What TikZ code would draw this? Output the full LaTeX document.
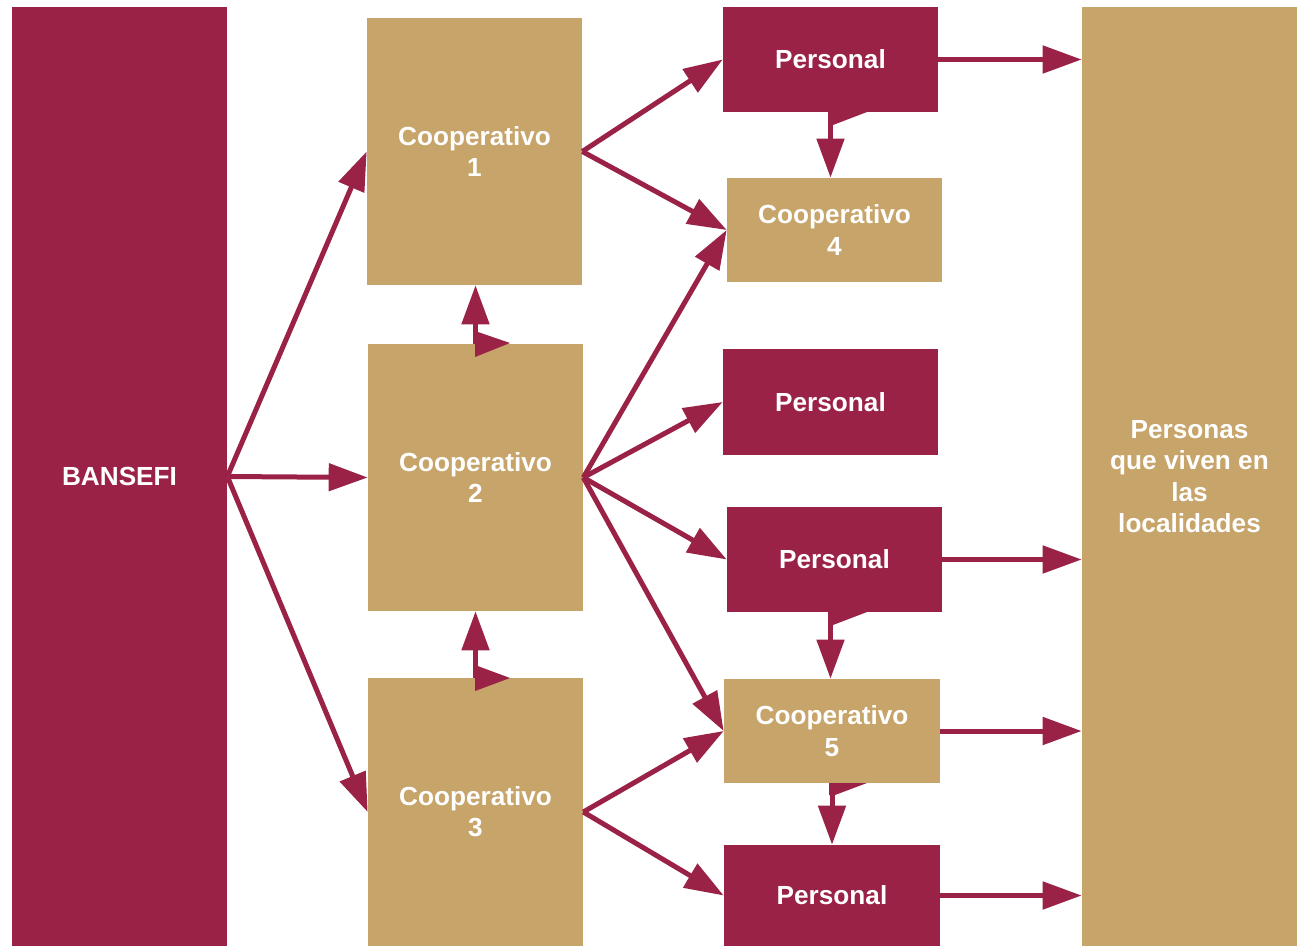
\documentclass[tikz,border=0pt]{standalone}
\usepackage{fontspec}
\setmainfont{Liberation Sans}
\usetikzlibrary{arrows.meta}

\definecolor{wine}{RGB}{155,34,71}
\definecolor{gold}{RGB}{198,164,106}

\tikzset{
  box/.style={fill=#1, text=white, align=center, inner sep=0pt,
    font=\bfseries\fontsize{14.9}{17.8}\selectfont},
  link/.style={wine, line width=0.1cm, -{Triangle[length=0.78cm,width=0.54cm]}}
}

\begin{document}
\begin{tikzpicture}[x=0.02cm, y=-0.02cm]
\useasboundingbox (0,0) rectangle (1301,946);

% boxes
\node[box=wine, minimum width=4.3cm, minimum height=18.78cm] (bansefi) at (119.5,476.5) {BANSEFI};
\node[box=gold, minimum width=4.3cm, minimum height=5.34cm] (c1) at (474.5,151.5) {Cooperativo\\1};
\node[box=gold, minimum width=4.3cm, minimum height=5.34cm] (c2) at (475.5,477.5) {Cooperativo\\2};
\node[box=gold, minimum width=4.3cm, minimum height=5.36cm] (c3) at (475.5,812) {Cooperativo\\3};
\node[box=wine, minimum width=4.3cm, minimum height=2.1cm] (p1) at (830.5,59.5) {Personal};
\node[box=gold, minimum width=4.3cm, minimum height=2.08cm] (c4) at (834.5,230) {Cooperativo\\4};
\node[box=wine, minimum width=4.3cm, minimum height=2.12cm] (p2) at (830.5,402) {Personal};
\node[box=wine, minimum width=4.3cm, minimum height=2.1cm] (p3) at (834.5,559.5) {Personal};
\node[box=gold, minimum width=4.32cm, minimum height=2.08cm] (c5) at (832,731) {Cooperativo\\5};
\node[box=wine, minimum width=4.32cm, minimum height=2.02cm] (p4) at (832,895.5) {Personal};
\node[box=gold, minimum width=4.3cm, minimum height=18.78cm] (pv) at (1189.5,476.5) {Personas\\que viven en\\las\\localidades};

% arrows
\draw[link] (bansefi.east) -- (c1.west);
\draw[link] (bansefi.east) -- (c2.west);
\draw[link] (bansefi.east) -- (c3.west);

\draw[link] (c1.east) -- (p1.west);
\draw[link] (c1.east) -- (c4.west);
\draw[link] (c2.east) -- (c4.west);
\draw[link] (c2.east) -- (p2.west);
\draw[link] (c2.east) -- (p3.west);
\draw[link] (c2.east) -- (c5.west);
\draw[link] (c3.east) -- (c5.west);
\draw[link] (c3.east) -- (p4.west);

\draw[link] (p1.east) -- (p1.east -| pv.west);
\draw[link] (p3.east) -- (p3.east -| pv.west);
\draw[link] (c5.east) -- (c5.east -| pv.west);
\draw[link] (p4.east) -- (p4.east -| pv.west);

\draw[link] (p1.south) -- (p1.south |- c4.north);
\draw[link] ([xshift=-0.08cm]p3.south) -- ([xshift=-0.08cm]p3.south |- c5.north);
\draw[link] (c5.south) -- (c5.south |- p4.north);
\draw[link] (c2.north) -- (c2.north |- c1.south);
\draw[link] (c3.north) -- (c3.north |- c2.south);

% callout pointers
\fill[wine] (828,112) -- (867,112) -- (833,125) -- (828,125) -- cycle;
\fill[wine] (828,612) -- (867,612) -- (833,625) -- (828,625) -- cycle;
\fill[wine] (829,783) -- (867,783) -- (835,795) -- (829,795) -- cycle;
\fill[wine] (475,331) -- (510,343) -- (475,357) -- cycle;
\fill[wine] (475,665) -- (510,678) -- (475,691) -- cycle;

\end{tikzpicture}
\end{document}
